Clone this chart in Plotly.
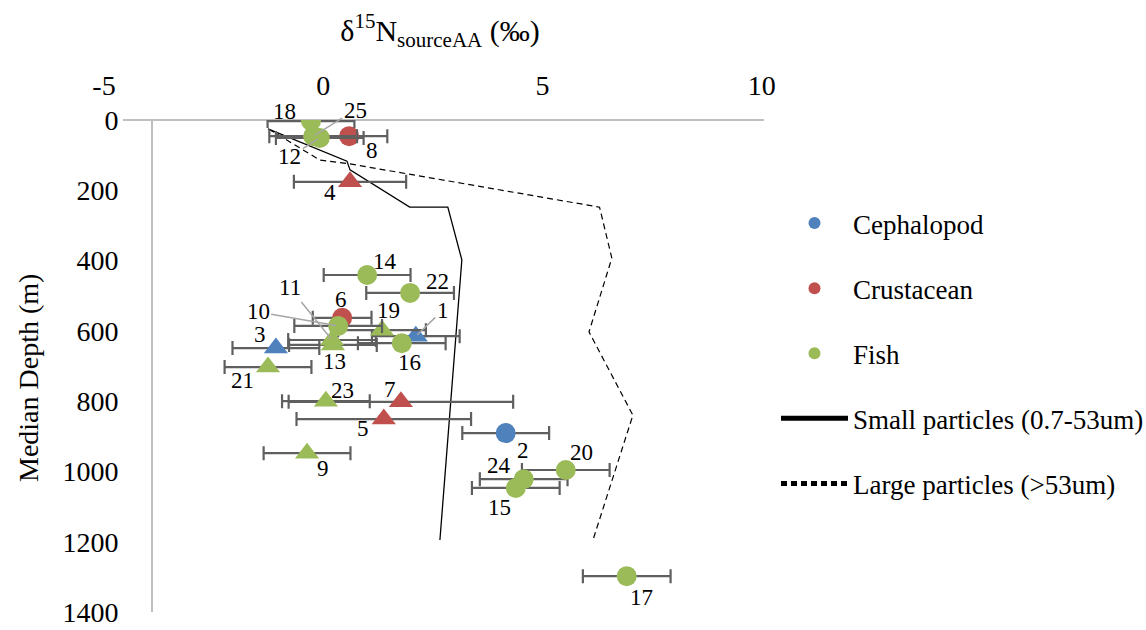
import plotly.graph_objects as go

# ---------------- data ----------------
specimen_ids = list(range(1, 26))
taxa = ["Cephalopod", "Cephalopod", "Cephalopod",
        "Crustacean", "Crustacean", "Crustacean", "Crustacean", "Crustacean",
        "Fish", "Fish", "Fish", "Fish", "Fish", "Fish", "Fish", "Fish", "Fish",
        "Fish", "Fish", "Fish", "Fish", "Fish", "Fish", "Fish", "Fish"]
shapes_kind = ["tri", "circ", "tri",
               "tri", "tri", "circ", "tri", "circ",
               "tri", "circ", "tri", "circ", "tri", "circ", "circ", "circ", "circ",
               "circ", "tri", "circ", "tri", "circ", "tri", "circ", "circ"]
d15n = [2.11, 4.16, -1.08,
        0.61, 1.38, 0.43, 1.77, 0.59,
        -0.37, 0.34, 0.20, -0.08, 0.22, 1.00, 4.39, 1.79, 6.92,
        -0.28, 1.34, 5.53, -1.26, 1.98, 0.06, 4.57, -0.23]
d15n_sd = [1.00, 0.99, 0.99,
           1.28, 1.99, 0.67, 2.56, 0.87,
           0.99, 1.00, 1.00, 1.00, 1.00, 0.99, 1.00, 1.00, 1.00,
           0.99, 1.00, 1.00, 0.99, 1.00, 1.00, 1.00, 1.00]
depth = [615, 891, 649,
         176, 851, 563, 802, 46,
         948, 586, 626, 51, 640, 441, 1047, 635, 1298,
         3, 598, 996, 703, 492, 800, 1022, 46]

small_depth = [25, 117, 142, 248, 248, 398, 1195]
small_d15n = [-1.26, 0.54, 0.61, 1.97, 2.84, 3.16, 2.66]
large_depth = [26, 114, 125, 248, 393, 603, 840, 1195]
large_d15n = [-1.24, -0.08, 0.61, 6.30, 6.58, 6.06, 7.06, 6.15]

x_ticks = [-5, 0, 5, 10]
x_ticktext = ["-5", "0", "5", "10"]
y_ticks = [0, 200, 400, 600, 800, 1000, 1200, 1400]

# ---------------- styling ----------------
FONT = "Liberation Serif"
colors = {"Cephalopod": "#4F81BD", "Crustacean": "#C0504D", "Fish": "#9BBB59"}
ERR_COLOR = "#5F5F5F"
AXIS_COLOR = "#BFBFBF"

# label offsets in px (dx right, dy down), leader line flag
label_offsets = {
    1: (27, -26, True), 2: (17, 17, False), 3: (-16, -14, False), 4: (-20, 11, False),
    5: (-21, 9, False), 6: (-1, -18, False), 7: (-11, -12, False), 8: (23, 14, False),
    9: (16, 15, False), 10: (-80, -14, True), 11: (-42, -52, True), 12: (-30, 19, True),
    13: (2, 17, False), 14: (18, -13, False), 15: (-16, 20, False), 16: (8, 19, False),
    17: (15, 21, False), 18: (-26, -10, False), 19: (6, -20, False), 20: (16, -18, False),
    21: (-26, 13, False), 22: (27, -11, False), 23: (17, -11, False), 24: (-25, -14, False),
    25: (42, -26, True),
}

fig = go.Figure()

# particle lines (drawn first, listed last in legend)
fig.add_trace(go.Scatter(
    x=small_d15n, y=small_depth, mode="lines", name="Small particles (0.7-53um)",
    line=dict(color="black", width=1.3), legendgroup="small", legendrank=4))
fig.add_trace(go.Scatter(
    x=large_d15n, y=large_depth, mode="lines", name="Large particles (>53um)",
    line=dict(color="black", width=1.2, dash="6px,4px"), legendgroup="large", legendrank=5))

rank = {"Cephalopod": 1, "Crustacean": 2, "Fish": 3}
for taxon in ["Cephalopod", "Crustacean", "Fish"]:
    for kind, symbol, size in [("tri", "triangle-up", 21), ("circ", "circle", 20)]:
        idx = [i for i in range(len(specimen_ids)) if taxa[i] == taxon and shapes_kind[i] == kind]
        fig.add_trace(go.Scatter(
            x=[d15n[i] for i in idx], y=[depth[i] for i in idx],
            mode="markers", name=taxon,
            marker=dict(symbol=symbol, size=size, color=colors[taxon]),
            error_x=dict(type="data", array=[d15n_sd[i] for i in idx], visible=True,
                         color=ERR_COLOR, thickness=2.2, width=7),
            legendgroup=taxon, legendrank=rank[taxon],
            showlegend=(kind == "circ"),
        ))

annotations = []
for i, sid in enumerate(specimen_ids):
    dx, dy, leader = label_offsets[sid]
    if leader:
        annotations.append(dict(
            x=d15n[i], y=depth[i], xref="x", yref="y", text=str(sid),
            showarrow=True, ax=dx, ay=dy, arrowhead=0, arrowwidth=1.5,
            arrowcolor="#A6A6A6", standoff=2,
            font=dict(family=FONT, size=23, color="black")))
    else:
        annotations.append(dict(
            x=d15n[i], y=depth[i], xref="x", yref="y", text=str(sid),
            showarrow=False, xshift=dx, yshift=-dy,
            font=dict(family=FONT, size=23, color="black")))

W, H = 1146, 630
L, R = 104, 764
T, B = 120, 612

# y-axis title placed like the reference (slightly below the axis centre)
annotations.append(dict(
    text="Median Depth (m)", textangle=-90, xref="paper", yref="paper",
    x=(28 - L) / (R - L), y=(B - 378) / (B - T), xanchor="center", yanchor="middle",
    showarrow=False, font=dict(family=FONT, size=28, color="black")))

fig.update_layout(
    width=W, height=H,
    margin=dict(l=L, r=W - R, t=T, b=H - B, autoexpand=False),
    paper_bgcolor="white", plot_bgcolor="white",
    font=dict(family=FONT, size=28, color="black"),
    title=dict(text="δ<sup>15</sup>N<sub>sourceAA</sub> (‰)", x=440 / W, xanchor="center",
               y=1 - 30 / H, yanchor="middle", font=dict(family=FONT, size=30, color="black")),
    xaxis=dict(range=[-5, 10.05], side="top", tickvals=x_ticks, ticktext=x_ticktext,
               showgrid=False, automargin=False,
               zeroline=False, showline=False, ticks="outside", ticklen=13,
               tickcolor="rgba(0,0,0,0)", tickfont=dict(family=FONT, size=28)),
    yaxis=dict(range=[1400, 0], tickvals=y_ticks, showgrid=False, zeroline=False,
               automargin=False,
               anchor="free", position=(152 - L) / (R - L),
               showline=True, linecolor=AXIS_COLOR, linewidth=2,
               ticks="outside", ticklen=27, tickcolor="rgba(0,0,0,0)",
               tickfont=dict(family=FONT, size=28)),
    legend=dict(x=(776 - L) / (R - L), xanchor="left", y=(B - 199) / (B - T), yanchor="top",
                font=dict(family=FONT, size=27, color="black"), tracegroupgap=27,
                itemwidth=67,
                bgcolor="rgba(0,0,0,0)", itemsizing="constant"),
    shapes=[dict(type="line", xref="paper", yref="paper",
                 x0=(123 - L) / (R - L), x1=1.0, y0=1, y1=1,
                 line=dict(color=AXIS_COLOR, width=2), layer="below")],
    annotations=annotations,
    showlegend=True,
)

fig.write_html("out.html")
